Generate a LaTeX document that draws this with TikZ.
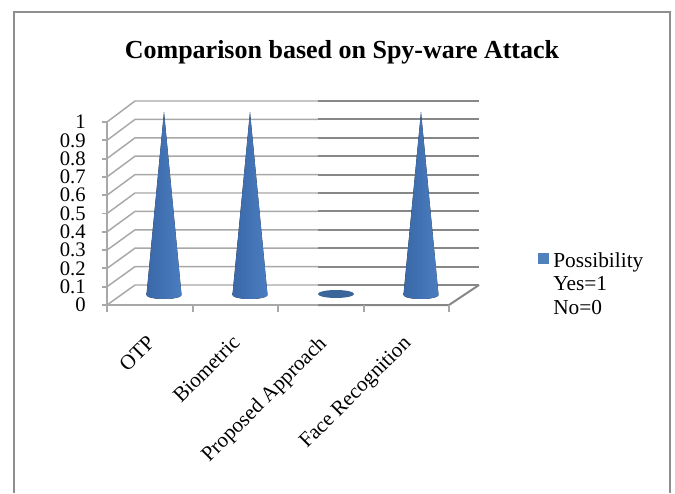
\documentclass[tikz,border=0pt]{standalone}
\usepackage{fontspec}
\setmainfont{Liberation Serif}

\definecolor{framegray}{HTML}{8E8E8E}
\definecolor{gridgray}{HTML}{A8A8A8}
\definecolor{griddark}{HTML}{878787}
\definecolor{conedark}{HTML}{3A68A8}
\definecolor{conelight}{HTML}{6E9EDB}
\definecolor{conemid}{HTML}{4A7DC0}
\definecolor{flatblue}{HTML}{3B6699}
\definecolor{legblue}{HTML}{4F81BD}

\begin{document}
\begin{tikzpicture}[x=0.75pt, y=-0.75pt,
	gridline/.style={gridgray, line width=1.1pt},
	griddeep/.style={griddark, line width=1.5pt},
	axisline/.style={gridgray, line width=1.4pt},
	conebody/.style={left color=conedark, middle color=conelight, right color=conemid, draw=none},
	ticklabel/.style={anchor=east, inner sep=0pt, font=\fontsize{15.5}{17}\selectfont},
	catlabel/.style={anchor=north east, rotate=45, inner sep=0pt, font=\fontsize{15.8}{18}\selectfont},
	legtext/.style={anchor=base west, inner sep=0pt, font=\fontsize{16}{19}\selectfont}]
	\useasboundingbox (0,0) rectangle (675,493);
	% outer frame
	\draw[framegray, line width=1.6pt] (14,493) -- (14,12) -- (670,12) -- (670,493);
	% title
	\node[anchor=base, inner sep=0pt, font=\fontsize{19.5}{22}\selectfont\bfseries](title) at (342,58){Comparison based on Spy-ware Attack};
	% back wall and side wall
	\foreach \k in {0,...,10}{
		\draw[gridline] (107,305-18.3*\k) -- (135,285-18.4*\k) -- (318,285-18.4*\k);
		\draw[griddeep] (318,285-18.4*\k) -- (479,285-18.4*\k);
		\draw[axisline] (102,305-18.3*\k) -- (107,305-18.3*\k);
	}
	\foreach \k/\v in {0/0,1/0.1,2/0.2,3/0.3,4/0.4,5/0.5,6/0.6,7/0.7,8/0.8,9/0.9,10/1}
		\node[ticklabel](t\k) at (86,305-18.3*\k){\v};
	% axes and floor
	\draw[axisline] (107,122) -- (107,305) -- (318,305);
	\draw[griddeep] (318,305) -- (449,305) -- (479,285);
	\foreach \x in {107,193,278,364,449}
		\draw[axisline] (\x,305) -- (\x,312);
	% cones
	\foreach \cx/\n in {164/c1,250/c2,421/c4}{
		\fill[conebody] (\cx-17.5,295) -- (\cx,112) -- (\cx+17.5,295)
			arc[start angle=0, end angle=180, x radius=17.5, y radius=4] -- cycle;
		\coordinate(\n) at (\cx,112);
	}
	\fill[flatblue] (336,294) ellipse[x radius=18, y radius=4];
	\coordinate(c3) at (336,294);
	% category labels
	\node[catlabel](otp) at (146,334){OTP};
	\node[catlabel](bio) at (231,334){Biometric};
	\node[catlabel](prop) at (317,334){Proposed Approach};
	\node[catlabel](face) at (402,334){Face Recognition};
	% legend
	\node[fill=legblue, minimum size=8.25pt, inner sep=0pt](key) at (543.5,258.5){};
	\node[legtext](l1) at (553,267){Possibility};
	\node[legtext](l2) at (553,290){Yes=1};
	\node[legtext](l3) at (553,314){No=0};
\end{tikzpicture}
\end{document}
